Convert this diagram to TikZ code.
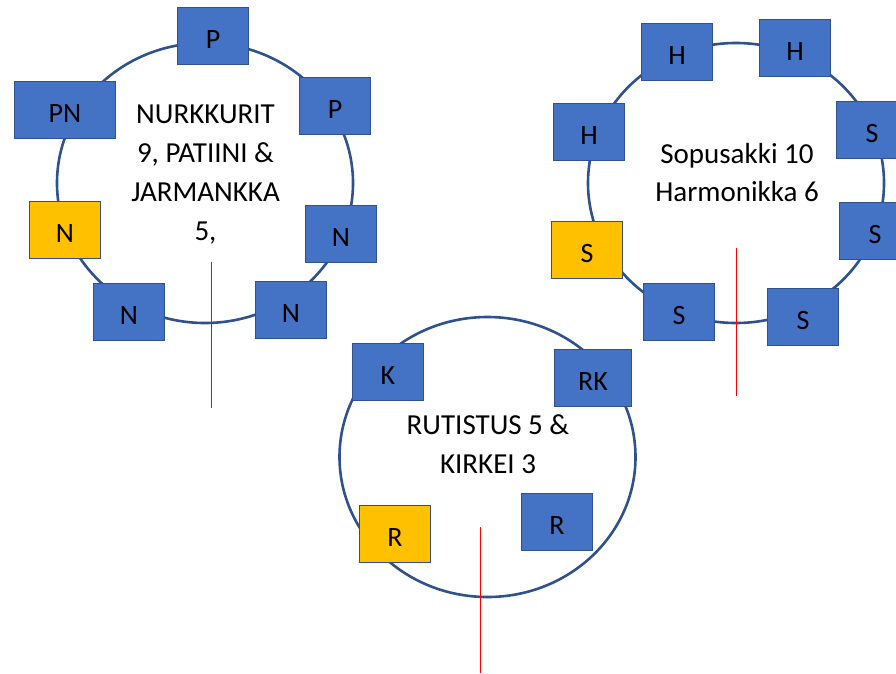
\documentclass[tikz,border=0pt]{standalone}
\usepackage{fontspec}
\setmainfont{Carlito}
\usetikzlibrary{positioning}
\usetikzlibrary{shapes.geometric}

\definecolor{ringblue}{HTML}{2F528F}
\definecolor{seatblue}{HTML}{4472C4}
\definecolor{spareyellow}{HTML}{FFC000}

\begin{document}
\begin{tikzpicture}[x=1pt, y=-1pt,
  ring/.style={ellipse, draw=ringblue, line width=2.6pt, minimum width=296pt, minimum height=280pt, inner sep=0pt},
  seat/.style={rectangle, draw=ringblue, line width=1.8pt, fill=seatblue, minimum width=71pt, minimum height=57pt,
    inner sep=0pt, font=\fontsize{28}{34}\selectfont, text height=24pt, text depth=0pt},
  spare/.style={seat, fill=spareyellow},
  tally/.style={align=center, font=\fontsize{29}{38.7}\selectfont},
  divider/.style={draw=red, line width=1pt},
]
  \useasboundingbox (0,0) rectangle (896,673);

  % rings and their names
  \node[ring] (ringNurk) at (205,183) {};
  \node[ring] (ringSopu) at (736,183) {};
  \node[ring] (ringRuti) at (487.5,457) {};
  \node[tally] (nurkText) at (205.5,174.5) {NURKKURIT\\9, PATIINI \&\\JARMANKKA\\5,};
  \node[tally] (sopuText) at (737,172.5) {Sopusakki 10\\Harmonikka 6};
  \node[tally] (rutiText) at (488,444.5) {RUTISTUS 5 \&\\KIRKEI 3};

  % red marks
  \coordinate (nurkTop) at (211,262);
  \coordinate (nurkEnd) at (211,408);
  \coordinate (sopuTop) at (736,248);
  \coordinate (sopuEnd) at (736,396);
  \coordinate (rutiTop) at (480,527);
  \coordinate (rutiEnd) at (480,673);
  \draw[divider] (nurkTop) -- (nurkEnd);
  \draw[divider] (sopuTop) -- (sopuEnd);
  \draw[divider] (rutiTop) -- (rutiEnd);

  % seats round Nurkkurit
  \foreach \name/\x/\y/\txt in {n1/213/36/P, n3/335/106/P, n5/129/312/N, n6/291/310/N, n7/341/234/N} {
    \node[seat] (\name) at (\x,\y) {\txt};
  }
  \node[seat, minimum width=101pt] (n2) at (65,110) {PN};
  \node[spare] (n4) at (65,230) {N};

  % seats round Sopusakki
  \foreach \name/\x/\y/\txt in {s1/677/52/H, s2/795/48/H, s3/589/132/H, s5/679/312/S, s6/803/317/S, s7/872/130/S, s8/875/231/S} {
    \node[seat] (\name) at (\x,\y) {\txt};
  }
  \node[spare] (s4) at (587,250) {S};

  % seats round Rutistus
  \node[seat] (r1) at (388,372) {K};
  \node[seat, minimum width=77pt] (r2) at (593,378) {RK};
  \node[spare] (r3) at (395,534) {R};
  \node[seat] (r4) at (557,522) {R};
\end{tikzpicture}
\end{document}
